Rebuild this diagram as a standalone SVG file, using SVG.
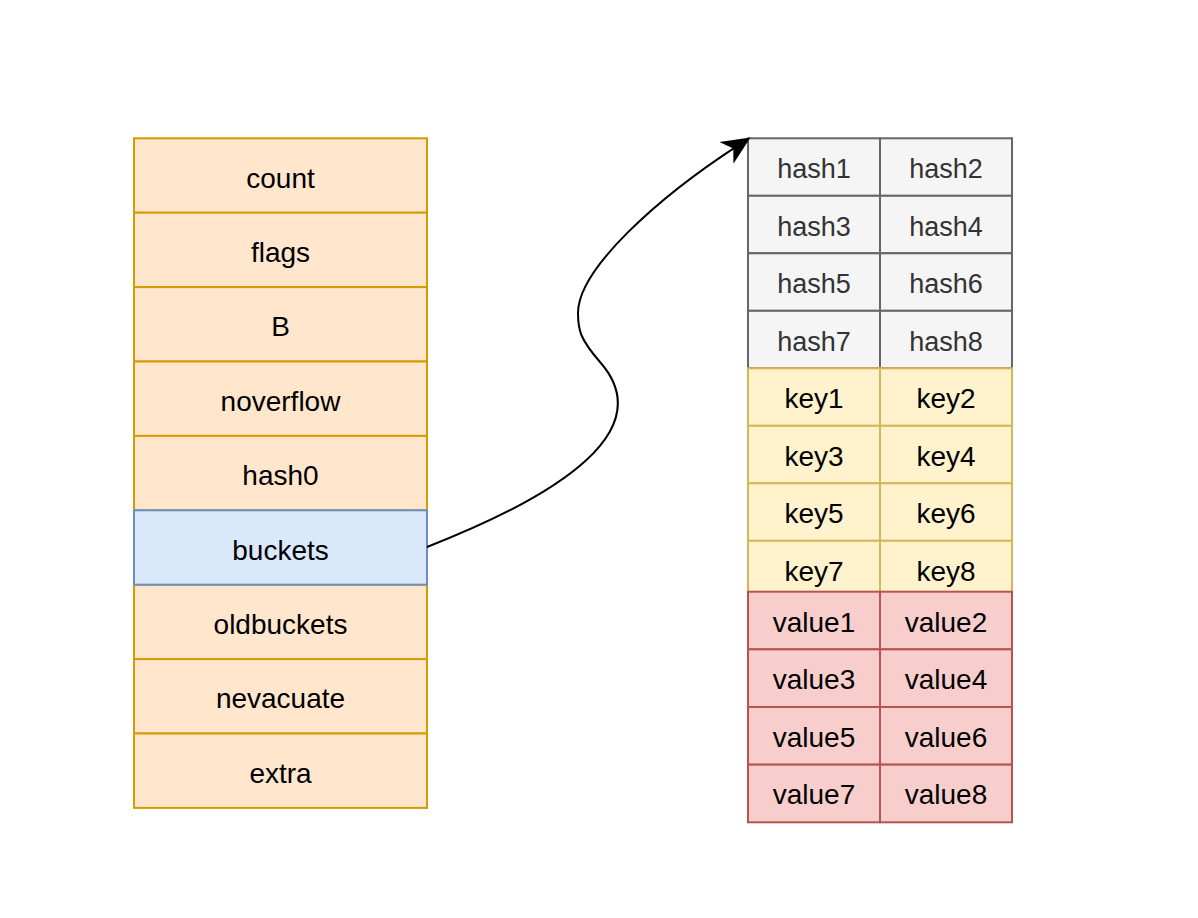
<svg xmlns="http://www.w3.org/2000/svg" width="1198" height="918" viewBox="0 0 1198 918">
<style>
text{font-family:"Liberation Sans",Arial,Helvetica,sans-serif;font-size:28px;text-anchor:middle;fill:#000}
.o{fill:#ffe6cc;stroke:#d79b00;stroke-width:2}
.b{fill:#dae8fc;stroke:#6c8ebf;stroke-width:2}
.g{fill:#f5f5f5;stroke:#666666;stroke-width:2}
.y{fill:#fff2cc;stroke:#d6b656;stroke-width:2}
.r{fill:#f8cecc;stroke:#b85450;stroke-width:2}
.gt{fill:#333333;font-size:27px}
.edge{fill:none;stroke:#000;stroke-width:2}
</style>
<defs>
<marker id="arrow" markerUnits="userSpaceOnUse" markerWidth="30" markerHeight="30" viewBox="0 0 22 20" refX="13" refY="10" orient="auto">
<path d="M21,10 L0,0.5 L6,10 L0,19.5 Z" fill="#000"/>
</marker>
</defs>
<rect width="1198" height="918" fill="#fff"/>
<g id="hmap">
<g id="count"><rect class="o" x="134" y="138.3" width="293" height="74.4"/><text x="280.5" y="187.5">count</text></g>
<g id="flags"><rect class="o" x="134" y="212.7" width="293" height="74.4"/><text x="280.5" y="261.9">flags</text></g>
<g id="B"><rect class="o" x="134" y="287.1" width="293" height="74.4"/><text x="280.5" y="336.3">B</text></g>
<g id="noverflow"><rect class="o" x="134" y="361.5" width="293" height="74.4"/><text x="280.5" y="410.7">noverflow</text></g>
<g id="hash0"><rect class="o" x="134" y="435.9" width="293" height="74.4"/><text x="280.5" y="485.1">hash0</text></g>
<g id="oldbuckets"><rect class="o" x="134" y="584.7" width="293" height="74.4"/><text x="280.5" y="633.9">oldbuckets</text></g>
<g id="nevacuate"><rect class="o" x="134" y="659.1" width="293" height="74.4"/><text x="280.5" y="708.3">nevacuate</text></g>
<g id="extra"><rect class="o" x="134" y="733.5" width="293" height="74.4"/><text x="280.5" y="782.7">extra</text></g>
<g id="buckets"><rect class="b" x="134" y="510.3" width="293" height="74.4"/><text x="280.5" y="559.5">buckets</text></g>
</g>
<g id="bucket">
<g id="hash1"><rect class="g" x="748" y="138.3" width="132" height="57.5"/><text class="gt" x="814" y="178">hash1</text></g>
<g id="hash2"><rect class="g" x="880" y="138.3" width="132" height="57.5"/><text class="gt" x="946" y="178">hash2</text></g>
<g id="hash3"><rect class="g" x="748" y="195.8" width="132" height="57.5"/><text class="gt" x="814" y="235.5">hash3</text></g>
<g id="hash4"><rect class="g" x="880" y="195.8" width="132" height="57.5"/><text class="gt" x="946" y="235.5">hash4</text></g>
<g id="hash5"><rect class="g" x="748" y="253.3" width="132" height="57.5"/><text class="gt" x="814" y="293">hash5</text></g>
<g id="hash6"><rect class="g" x="880" y="253.3" width="132" height="57.5"/><text class="gt" x="946" y="293">hash6</text></g>
<g id="hash7"><rect class="g" x="748" y="310.8" width="132" height="57.5"/><text class="gt" x="814" y="350.5">hash7</text></g>
<g id="hash8"><rect class="g" x="880" y="310.8" width="132" height="57.5"/><text class="gt" x="946" y="350.5">hash8</text></g>
<g id="key1"><rect class="y" x="748" y="368.3" width="132" height="57.5"/><text x="814" y="408">key1</text></g>
<g id="key2"><rect class="y" x="880" y="368.3" width="132" height="57.5"/><text x="946" y="408">key2</text></g>
<g id="key3"><rect class="y" x="748" y="425.8" width="132" height="57.5"/><text x="814" y="465.5">key3</text></g>
<g id="key4"><rect class="y" x="880" y="425.8" width="132" height="57.5"/><text x="946" y="465.5">key4</text></g>
<g id="key5"><rect class="y" x="748" y="483.3" width="132" height="57.5"/><text x="814" y="523">key5</text></g>
<g id="key6"><rect class="y" x="880" y="483.3" width="132" height="57.5"/><text x="946" y="523">key6</text></g>
<g id="key7"><rect class="y" x="748" y="540.8" width="132" height="57.5"/><text x="814" y="580.5">key7</text></g>
<g id="key8"><rect class="y" x="880" y="540.8" width="132" height="57.5"/><text x="946" y="580.5">key8</text></g>
<g id="value1"><rect class="r" x="748" y="591.7" width="132" height="57.65"/><text x="814" y="631.5">value1</text></g>
<g id="value2"><rect class="r" x="880" y="591.7" width="132" height="57.65"/><text x="946" y="631.5">value2</text></g>
<g id="value3"><rect class="r" x="748" y="649.35" width="132" height="57.65"/><text x="814" y="689">value3</text></g>
<g id="value4"><rect class="r" x="880" y="649.35" width="132" height="57.65"/><text x="946" y="689">value4</text></g>
<g id="value5"><rect class="r" x="748" y="707" width="132" height="57.65"/><text x="814" y="746.5">value5</text></g>
<g id="value6"><rect class="r" x="880" y="707" width="132" height="57.65"/><text x="946" y="746.5">value6</text></g>
<g id="value7"><rect class="r" x="748" y="764.65" width="132" height="57.65"/><text x="814" y="804">value7</text></g>
<g id="value8"><rect class="r" x="880" y="764.65" width="132" height="57.65"/><text x="946" y="804">value8</text></g>
</g>
<g id="connectors">
<path class="edge" marker-end="url(#arrow)" d="M427,547 C560,495 660,430 600,362 C580,339 578,330 578,313 C578,270 655,199 741.3,143.3"/>
</g>
</svg>
